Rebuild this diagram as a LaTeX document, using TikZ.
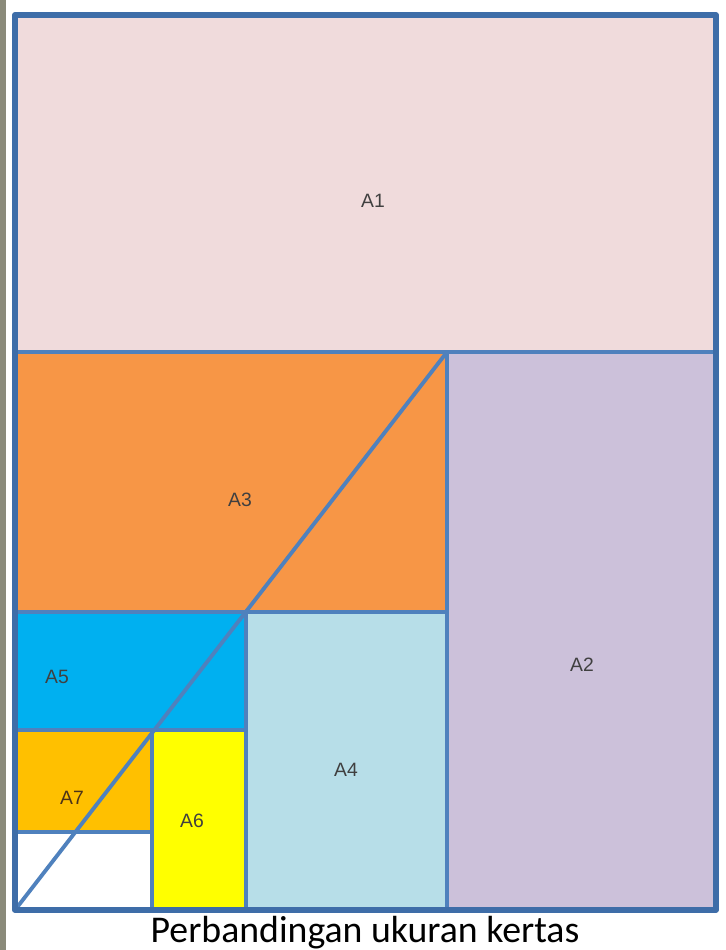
\documentclass[tikz,border=0pt]{standalone}
\usepackage{fontspec}
\setmainfont{Liberation Sans}
\newfontfamily\captionfont{Carlito}
\definecolor{edgeblue}{HTML}{4F81BD}
\definecolor{frameblue}{HTML}{3E6DA8}
\definecolor{aonefill}{HTML}{F0DBDC}
\definecolor{atwofill}{HTML}{CCC1DA}
\definecolor{athreefill}{HTML}{F79646}
\definecolor{afourfill}{HTML}{B7DEE8}
\definecolor{afivefill}{HTML}{00B0F0}
\definecolor{asixfill}{HTML}{FFFF00}
\definecolor{asevenfill}{HTML}{FFC000}
\definecolor{sidegray}{HTML}{8A8A7A}
\tikzset{
  sheet/.style={draw=edgeblue,line width=2.2pt},
  sizelabel/.style={font=\fontsize{11}{13}\selectfont,text=black!75}
}
\begin{document}
\begin{tikzpicture}[x=0.02cm,y=-0.02cm,line cap=round,line join=round]
  \useasboundingbox (0,0) rectangle (725,950);
  \fill[white] (0,0) rectangle (725,950);
  \fill[sidegray] (0,0) rectangle (6,950);
  % corners of the sheets
  \coordinate (O) at (15,910);
  \coordinate (TL) at (15,15);
  \coordinate (TR) at (716,15);
  \coordinate (BR) at (716,910);
  \coordinate (D) at (447,352);
  % sheets
  \fill[aonefill] (15,15) rectangle (716,352);
  \fill[atwofill] (447,352) rectangle (716,910);
  \fill[athreefill] (15,352) rectangle (447,612);
  \fill[afourfill] (246,612) rectangle (447,910);
  \fill[afivefill] (15,612) rectangle (246,730);
  \fill[asixfill] (152,730) rectangle (246,910);
  \fill[asevenfill] (15,730) rectangle (152,832);
  \draw[sheet] (15,352) -- (716,352);
  \draw[sheet] (447,352) -- (447,910);
  \draw[sheet] (15,612) -- (447,612);
  \draw[sheet] (246,612) -- (246,910);
  \draw[sheet] (15,730) -- (246,730);
  \draw[sheet] (152,730) -- (152,910);
  \draw[sheet] (15,832) -- (152,832);
  \draw[sheet] (O) -- (D);
  \draw[draw=frameblue,line width=3.3pt] (TL) -- (TR) -- (BR) -- (O) -- cycle;
  % labels
  \node[sizelabel] at (373,201) {A1};
  \node[sizelabel] at (582,665) {A2};
  \node[sizelabel] at (240,500) {A3};
  \node[sizelabel] at (346,770) {A4};
  \node[sizelabel] at (57,677) {A5};
  \node[sizelabel] at (192,821) {A6};
  \node[sizelabel,text=black!60!brown] at (72,798) {A7};
  \node[font=\captionfont\fontsize{21.5}{24}\selectfont] at (365,933) {Perbandingan ukuran kertas};
\end{tikzpicture}
\end{document}
